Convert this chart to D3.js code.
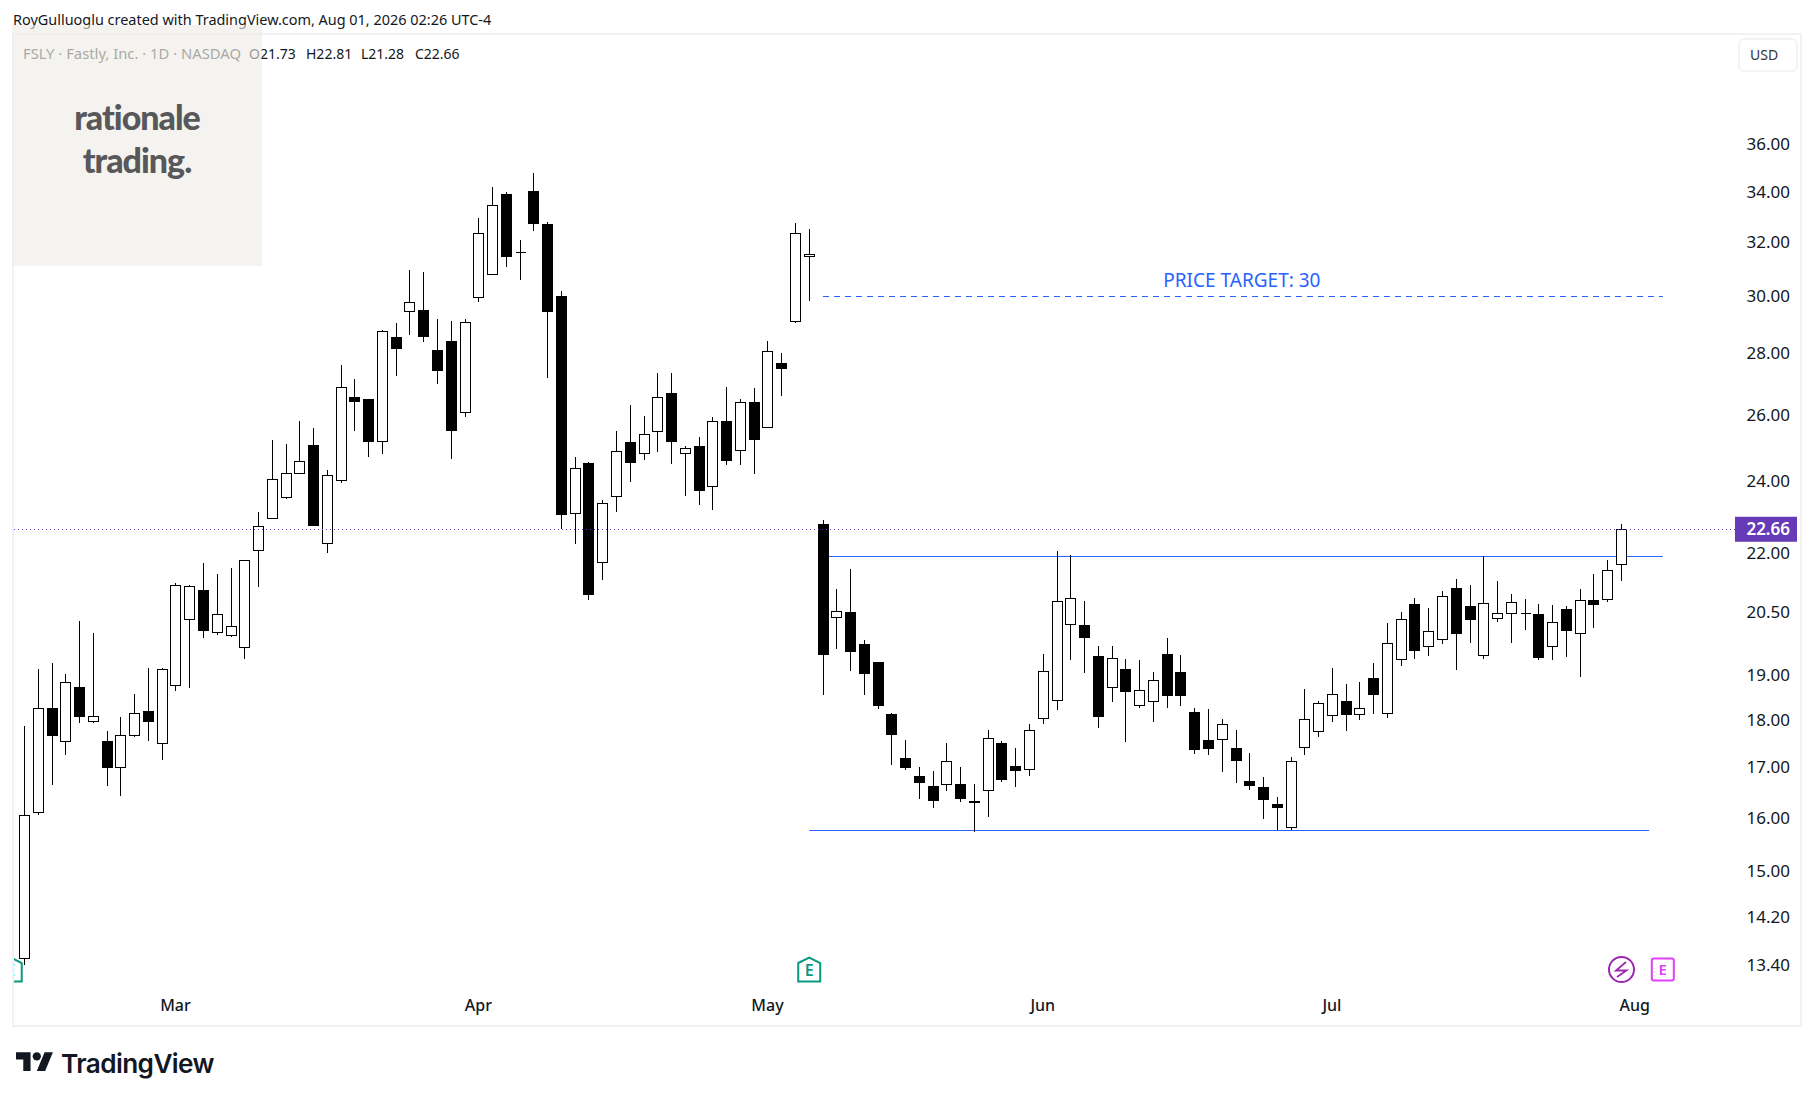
<!DOCTYPE html>
<html>
<head>
<meta charset="utf-8">
<script src="https://cdn.jsdelivr.net/npm/d3@7"></script>
<style>
  html, body { margin: 0; padding: 0; background: #fff; }
  svg { display: block; }
  text { font-family: "Noto Sans", sans-serif; }
</style>
</head>
<body>
<div id="plot"></div>
<script>
'use strict'

// FSLY daily bars, one row = 10 bars
const opens = [
  13.52,16.12,18.27,17.55,18.74,17.99,17.55,17.01,17.69,18.21,
  17.51,18.79,20.34,21.06,20.02,19.95,19.66,22.09,22.97,23.55,
  24.25,25.07,22.28,24.05,26.58,26.51,25.20,28.56,29.47,29.51,
  28.11,28.42,26.10,29.97,30.83,33.94,31.64,34.05,32.74,30.01,
  23.11,24.54,21.78,23.58,25.17,24.83,25.51,26.70,24.83,25.04,
  23.87,25.82,24.92,26.41,25.64,27.69,29.13,31.49,22.80,20.39,
  20.51,19.73,19.31,18.14,17.20,16.83,16.63,16.67,16.67,16.34,
  16.55,17.51,17.04,16.98,18.05,18.44,20.22,20.19,19.45,18.74,
  19.15,18.34,18.42,19.49,19.08,18.18,17.58,17.60,17.41,16.73,
  16.61,16.27,15.83,17.43,17.77,18.12,18.42,18.14,18.95,18.16,
  19.38,20.71,19.68,19.85,21.11,20.66,19.47,20.36,20.49,20.49,
  20.46,19.68,20.58,20.00,20.80,20.83,21.73]
const highs = [
  17.88,19.15,19.28,19.03,20.29,20.00,17.77,18.08,18.58,19.17,
  19.17,21.24,21.19,21.75,21.48,21.63,21.85,23.13,25.23,25.10,
  25.82,25.60,24.34,27.62,27.16,26.51,28.81,29.06,30.97,30.89,
  29.19,29.12,29.19,32.97,34.22,34.01,32.10,34.81,32.81,30.18,
  24.72,24.57,23.46,25.51,26.32,25.97,27.36,27.36,25.04,25.32,
  25.94,26.90,26.50,26.86,28.42,28.01,32.78,32.54,22.91,21.09,
  21.60,19.83,19.31,18.16,17.58,17.02,16.94,17.51,17.02,16.67,
  17.80,17.56,17.41,17.92,19.49,22.07,21.96,20.78,19.70,19.68,
  19.38,19.36,19.08,19.88,19.47,18.27,18.25,18.03,17.80,17.30,
  16.81,16.41,17.22,18.69,18.42,19.17,18.81,18.85,19.29,20.24,
  20.51,20.85,20.61,21.04,21.35,21.19,21.94,21.30,20.96,20.83,
  20.71,20.68,20.66,21.09,21.47,21.84,22.81]
const lows = [
  13.41,16.07,16.66,17.26,17.94,17.94,16.64,16.44,17.64,17.57,
  17.17,18.64,18.71,19.87,19.96,19.91,19.39,21.15,22.97,23.51,
  24.25,22.79,22.03,23.95,25.50,24.71,24.82,27.24,28.62,28.38,
  26.98,24.65,25.93,29.81,30.78,31.07,30.59,32.44,27.18,22.66,
  22.27,20.82,21.31,23.15,24.00,24.62,24.88,24.50,23.60,23.34,
  23.18,24.47,24.47,24.21,25.64,26.62,29.04,29.84,18.57,19.62,
  19.10,18.55,18.24,17.05,16.95,16.38,16.20,16.54,16.32,15.73,
  16.03,16.72,16.62,16.83,17.92,18.22,19.35,19.05,17.83,18.41,
  17.53,18.28,17.96,18.28,18.31,17.29,17.27,16.91,16.70,16.56,
  15.98,15.77,15.78,17.27,17.64,17.96,17.77,18.00,18.13,18.05,
  19.23,19.39,19.46,19.74,19.12,19.77,19.39,20.26,19.77,20.06,
  19.35,19.37,19.44,18.96,20.11,20.75,21.28]
const closes = [
  16.06,18.27,17.68,18.85,18.09,18.10,17.01,17.69,18.16,17.99,
  19.15,21.18,21.17,20.06,20.45,20.17,21.84,22.74,24.07,24.25,
  24.60,22.79,24.19,26.90,26.46,25.19,28.78,28.20,29.79,28.59,
  27.44,25.53,29.08,32.38,33.48,31.51,31.63,32.76,29.46,23.07,
  24.40,20.95,23.38,24.89,24.56,25.42,26.57,25.19,24.98,23.77,
  25.82,24.62,26.41,25.25,28.08,27.51,32.38,31.56,19.51,20.53,
  19.57,19.05,18.33,17.70,17.01,16.72,16.36,17.14,16.40,16.32,
  17.62,16.78,16.95,17.80,19.11,20.78,20.85,19.91,18.09,19.40,
  18.64,18.67,18.90,18.57,18.57,17.40,17.42,17.93,17.17,16.66,
  16.38,16.22,17.14,18.03,18.38,18.58,18.15,18.27,18.59,19.75,
  20.34,19.60,20.05,20.91,20.01,20.33,20.73,20.49,20.75,20.49,
  19.44,20.27,20.06,20.80,20.70,21.58,22.66]

const priceTicks = [36, 34, 32, 30, 28, 26, 24, 22, 20.5, 19, 18, 17, 16, 15, 14.2, 13.4]
const monthLabels = ['Mar', 'Apr', 'May', 'Jun', 'Jul', 'Aug']
const monthBars = [11, 33, 54, 74, 95, 117]

const lastClose = 22.66
// the two drawn levels and the target: [price, first bar, last bar]
const resistance = [21.94, 58, 119]
const support = [15.77, 57, 118]
const target = [30, 58, 119]
// event badges along the bottom, by bar number
const pastEarnings = [-1, 57]
const nextEarnings = [119]
const dividendBars = [116]

const W = 1814, H = 1101
const BLUE = '#2962ff', INK = '#131722', PURPLE = '#673ab7'

const x = d3.scaleLinear().domain([0, 116]).range([24.5, 1621.5])
const y = d3.scaleLog().domain([13.4, 36]).range([965.5, 144.9])

const svg = d3.select('#plot').append('svg').attr('width', W).attr('height', H)
svg.append('rect').attr('width', W).attr('height', H).attr('fill', '#fff')

// pane frame + clip, the left badge gets cut by it
svg.append('rect').attr('x', 13).attr('y', 34).attr('width', 1788).attr('height', 992)
  .attr('fill', 'none').attr('stroke', '#f2f2f2').attr('stroke-width', 2)
svg.append('clipPath').attr('id', 'pane').append('rect')
  .attr('x', 14).attr('y', 35).attr('width', 1786).attr('height', 990)
const pane = svg.append('g').attr('clip-path', 'url(#pane)')

// levels sit under the candles
const snap = v => Math.round(v) + .5
const level = (l, dash) => pane.append('line')
  .attr('x1', x(l[1])).attr('x2', x(l[2]))
  .attr('y1', snap(y(l[0]))).attr('y2', snap(y(l[0])))
  .attr('stroke', BLUE).attr('stroke-width', 1)
  .attr('stroke-dasharray', dash)
level(resistance, null)
level(support, null)
level(target, '6 5')

pane.append('text')
  .attr('x', x((target[1] + target[2]) / 2) - 1).attr('y', y(target[0]) - 9)
  .attr('text-anchor', 'middle').attr('fill', BLUE)
  .attr('font-size', 19).text('PRICE TARGET: 30')

// candles
const bars = d3.range(opens.length)
const candle = pane.append('g').selectAll('g').data(bars).join('g')
  .attr('shape-rendering', 'crispEdges')
candle.append('line')
  .attr('x1', i => Math.floor(x(i)) + .5).attr('x2', i => Math.floor(x(i)) + .5)
  .attr('y1', i => Math.round(y(highs[i]))).attr('y2', i => Math.round(y(lows[i])))
  .attr('stroke', '#000')
candle.append('path')
  .attr('d', i => {
    const top = snap(y(Math.max(opens[i], closes[i])))
    const bot = snap(y(Math.min(opens[i], closes[i])))
    const p = d3.path()
    p.rect(Math.floor(x(i)) - 4.5, top, 10, bot - top)
    return p.toString()
  })
  .attr('fill', i => closes[i] >= opens[i] ? '#fff' : '#000')
  .attr('stroke', '#000')

// last price line
pane.append('line')
  .attr('x1', 14).attr('x2', 1735)
  .attr('y1', snap(y(lastClose))).attr('y2', snap(y(lastClose)))
  .attr('stroke', PURPLE).attr('stroke-dasharray', '1 3')

// badges
const houseE = pane.selectAll('g.house').data(pastEarnings).join('g')
  .attr('class', 'house').attr('transform', i => `translate(${x(i)},970)`)
houseE.append('path')
  .attr('d', 'M-11 -7 L0 -12.5 L11 -7 V11.5 H-11 Z')
  .attr('fill', '#fff').attr('stroke', '#089981').attr('stroke-width', 2)
houseE.append('text').attr('text-anchor', 'middle').attr('y', 6)
  .attr('font-size', 16).attr('font-weight', 600).attr('fill', '#089981').text('E')

const boxE = pane.selectAll('g.box').data(nextEarnings).join('g')
  .attr('class', 'box').attr('transform', i => `translate(${x(i)},969.5)`)
boxE.append('rect').attr('x', -11).attr('y', -11).attr('width', 22).attr('height', 22).attr('rx', 2)
  .attr('fill', '#fff').attr('stroke', '#e040fb').attr('stroke-width', 2)
boxE.append('text').attr('text-anchor', 'middle').attr('y', 5.5)
  .attr('font-size', 15).attr('font-weight', 600).attr('fill', '#e040fb').text('E')

const bolt = pane.selectAll('g.bolt').data(dividendBars).join('g')
  .attr('class', 'bolt').attr('transform', i => `translate(${x(i)},969.5)`)
bolt.append('circle').attr('r', 12.5).attr('fill', '#fff')
  .attr('stroke', '#9c27b0').attr('stroke-width', 2)
bolt.append('path').attr('d', 'M4.5 -7.5 L-5.5 1 H5 L-4.5 7.5')
  .attr('fill', 'none').attr('stroke', '#9c27b0').attr('stroke-width', 1.8)

// axes
const yAxis = svg.append('g').attr('transform', 'translate(1790,-0.5)')
  .call(d3.axisLeft(y).tickValues(priceTicks).tickFormat(d3.format('.2f')).tickSize(0).tickPadding(0))
yAxis.select('.domain').remove()
yAxis.selectAll('text').attr('font-size', 17).attr('fill', INK).style('font-family', '"Noto Sans", sans-serif')

const xAxis = svg.append('g').attr('transform', 'translate(-1,1000)')
  .call(d3.axisBottom(x).tickValues(monthBars).tickFormat((d, i) => monthLabels[i]).tickSize(0).tickPadding(0))
xAxis.select('.domain').remove()
xAxis.selectAll('text').attr('font-size', 16).attr('font-weight', 500).attr('fill', INK).style('font-family', '"Noto Sans", sans-serif')

// last price tag
svg.append('rect').attr('x', 1735).attr('y', y(lastClose) - 12.5).attr('width', 62).attr('height', 25).attr('fill', PURPLE)
svg.append('text').attr('x', 1790).attr('y', y(lastClose) + 6)
  .attr('text-anchor', 'end').attr('fill', '#fff').attr('font-size', 17).attr('font-weight', 600)
  .text(d3.format('.2f')(lastClose))

// USD button
svg.append('rect').attr('x', 1739).attr('y', 39).attr('width', 58).attr('height', 32).attr('rx', 5)
  .attr('fill', '#fff').attr('stroke', '#f0f0f0').attr('stroke-width', 1.5)
svg.append('text').attr('x', 1750).attr('y', 59.5).attr('font-size', 14).attr('fill', '#333').text('USD')

// header + legend, these go under the watermark
svg.append('text').attr('x', 13).attr('y', 25).attr('font-size', 14.45).attr('fill', INK)
  .text('RoyGulluoglu created with TradingView.com, Aug 01, 2026 02:26 UTC-4')
svg.append('text').attr('x', 23).attr('y', 59).attr('font-size', 14.8).attr('fill', '#444')
  .text('FSLY · Fastly, Inc. · 1D · NASDAQ')
const legend = [['O21.73', 249], ['H22.81', 306], ['L21.28', 361], ['C22.66', 415]]
svg.selectAll('text.ohlc').data(legend).join('text').attr('class', 'ohlc')
  .attr('x', d => d[1]).attr('y', 59).attr('font-size', 14).attr('fill', INK).text(d => d[0])

// watermark
svg.append('rect').attr('x', 12).attr('y', 25).attr('width', 250).attr('height', 241)
  .attr('fill', '#edebe4').attr('fill-opacity', .6)
svg.selectAll('text.wm').data([['rationale', 130], ['trading.', 173]]).join('text').attr('class', 'wm')
  .attr('x', 137).attr('y', d => d[1]).attr('text-anchor', 'middle')
  .attr('font-size', 34).attr('font-weight', 900).attr('letter-spacing', -1)
  .attr('fill', '#58585a').style('font-family', 'Lato').text(d => d[0])

// TradingView logo
const logo = svg.append('g').attr('transform', 'translate(16,1048) scale(1.04)').attr('fill', '#131722')
logo.append('path').attr('d', 'M14 22H7V11H0V4h14v18zM28 22h-8l7.5-18h8L28 22z')
logo.append('circle').attr('cx', 20).attr('cy', 8).attr('r', 4)
svg.append('text').attr('x', 61).attr('y', 1073).attr('font-size', 26.2).attr('font-weight', 600)
  .attr('fill', '#131722').style('font-family', 'Inter').attr('letter-spacing', -.6).text('TradingView')
</script>
</body>
</html>
